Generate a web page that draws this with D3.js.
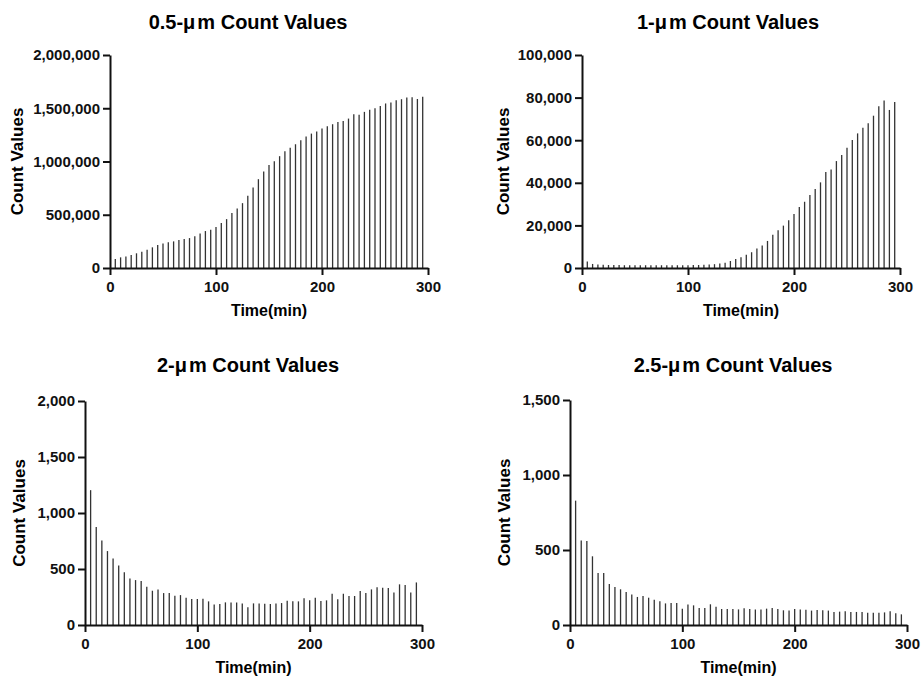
<!DOCTYPE html>
<html>
<head>
<meta charset="utf-8">
<script src="https://cdn.jsdelivr.net/npm/d3@7/dist/d3.min.js"></script>
<style>
  body { margin: 0; background: #fff; }
  svg { display: block; font-family: "Liberation Sans", Arial, sans-serif; font-weight: bold; }
  .axis path, .axis line { stroke: #111; stroke-width: 2; }
  .axis text { font-size: 15px; font-weight: bold; fill: #111; }
  .needle { stroke: #333; stroke-width: 1.3; }
</style>
</head>
<body>
<div id="chart"></div>
<script>
// time points (min)
var times = [5, 10, 15, 20, 25, 30, 35, 40, 45, 50, 55, 60, 65, 70, 75, 80, 85, 90, 95, 100,
  105, 110, 115, 120, 125, 130, 135, 140, 145, 150, 155, 160, 165, 170, 175, 180, 185, 190, 195, 200,
  205, 210, 215, 220, 225, 230, 235, 240, 245, 250, 255, 260, 265, 270, 275, 280, 285, 290, 295]

// count values per particle size
var count05 = [84000, 100000, 109000, 122000, 138000, 153000, 172000, 194000, 216000, 231000,
  241000, 250000, 262000, 272000, 281000, 297000, 325000, 347000, 359000, 384000,
  422000, 459000, 516000, 559000, 609000, 678000, 756000, 834000, 906000, 966000,
  1003000, 1050000, 1097000, 1128000, 1162000, 1200000, 1234000, 1262000, 1281000, 1309000,
  1331000, 1350000, 1372000, 1381000, 1403000, 1444000, 1440000, 1466000, 1487000, 1500000,
  1522000, 1545000, 1553000, 1575000, 1585000, 1600000, 1603000, 1587000, 1609000]
var count1 = [3100, 1900, 1700, 1500, 1400, 1400, 1400, 1300, 1300, 1300,
  1300, 1300, 1300, 1300, 1300, 1300, 1300, 1300, 1300, 1300,
  1400, 1400, 1500, 1600, 1800, 2100, 2500, 3300, 4200, 5100,
  6200, 7400, 9100, 10600, 12700, 15600, 17700, 19900, 22400, 25400,
  28600, 31100, 34300, 37100, 40200, 45100, 46200, 50200, 53100, 56500,
  60100, 63200, 65900, 67900, 71500, 75900, 78600, 74200, 77900]
var count2 = [1204, 874, 755, 660, 594, 532, 470, 416, 401, 392,
  342, 306, 318, 285, 285, 262, 267, 244, 232, 232,
  235, 211, 184, 187, 202, 202, 202, 193, 158, 193,
  193, 190, 187, 193, 196, 217, 211, 211, 238, 220,
  244, 214, 220, 279, 229, 279, 259, 259, 303, 285,
  318, 336, 333, 330, 291, 363, 357, 291, 380]
var count25 = [829, 564, 560, 458, 347, 347, 273, 253, 238, 220,
  204, 187, 193, 182, 169, 158, 144, 147, 147, 109,
  136, 131, 113, 113, 138, 122, 107, 107, 107, 104,
  111, 107, 104, 104, 109, 113, 107, 98, 96, 107,
  104, 102, 96, 100, 98, 96, 87, 89, 91, 87,
  87, 87, 82, 82, 82, 84, 91, 78, 71]

// tick labels
var xTicks = [0, 100, 200, 300]
var yTicks05 = [0, 500000, 1000000, 1500000, 2000000]
var yTicks1 = [0, 20000, 40000, 60000, 80000, 100000]
var yTicks2 = [0, 500, 1000, 1500, 2000]
var yTicks25 = [0, 500, 1000, 1500]

var WIDTH = 921
var HEIGHT = 678

// panel layout
var panels = [
  { size: '0.5-', data: count05, yTicks: yTicks05, left: 110, right: 428, top: 55, bottom: 268, titleX: 248, titleY: 29, ylabX: 17, xlabY: 316 },
  { size: '1-', data: count1, yTicks: yTicks1, left: 582, right: 900, top: 55, bottom: 268, titleX: 728, titleY: 29, ylabX: 503, xlabY: 316 },
  { size: '2-', data: count2, yTicks: yTicks2, left: 85, right: 422, top: 401, bottom: 625, titleX: 248, titleY: 372, ylabX: 19, xlabY: 673 },
  { size: '2.5-', data: count25, yTicks: yTicks25, left: 570, right: 907, top: 400, bottom: 625, titleX: 733, titleY: 372, ylabX: 504, xlabY: 673 }
]

var svg = d3.select('#chart').append('svg')
  .attr('width', WIDTH)
  .attr('height', HEIGHT)

panels.forEach(function (p) {
  var x = d3.scaleLinear().domain([0, 300]).range([p.left, p.right])
  var y = d3.scaleLinear().domain([0, d3.max(p.yTicks)]).range([p.bottom, p.top])
  var g = svg.append('g')

  // needles
  g.selectAll('line.needle')
    .data(times)
    .enter()
    .append('line')
    .attr('class', 'needle')
    .attr('x1', d => x(d))
    .attr('x2', d => x(d))
    .attr('y1', y(0))
    .attr('y2', (d, i) => y(p.data[i]))

  g.append('g')
    .attr('class', 'axis')
    .attr('transform', 'translate(0,' + p.bottom + ')')
    .call(d3.axisBottom(x).tickValues(xTicks).tickSize(7).tickSizeOuter(0).tickPadding(6))

  g.append('g')
    .attr('class', 'axis')
    .attr('transform', 'translate(' + p.left + ',0)')
    .call(d3.axisLeft(y).tickValues(p.yTicks).tickFormat(d3.format(',')).tickSize(7).tickSizeOuter(0).tickPadding(3))

  // title
  var t = g.append('text')
    .attr('x', p.titleX)
    .attr('y', p.titleY)
    .attr('text-anchor', 'middle')
    .style('font-size', '20px')
    .style('font-weight', 'bold')
  t.append('tspan').text(p.size)
  t.append('tspan').text('\u03bc')
  t.append('tspan').attr('dx', 2).text('m Count Values')

  // axis labels
  g.append('text')
    .attr('transform', 'translate(' + (p.ylabX + 6) + ',' + ((p.top + p.bottom) / 2) + ') rotate(-90)')
    .attr('text-anchor', 'middle')
    .style('font-size', '17px')
    .text('Count Values')

  g.append('text')
    .attr('x', (p.left + p.right) / 2)
    .attr('y', p.xlabY)
    .attr('text-anchor', 'middle')
    .style('font-size', '16px')
    .text('Time(min)')
})
</script>
</body>
</html>
